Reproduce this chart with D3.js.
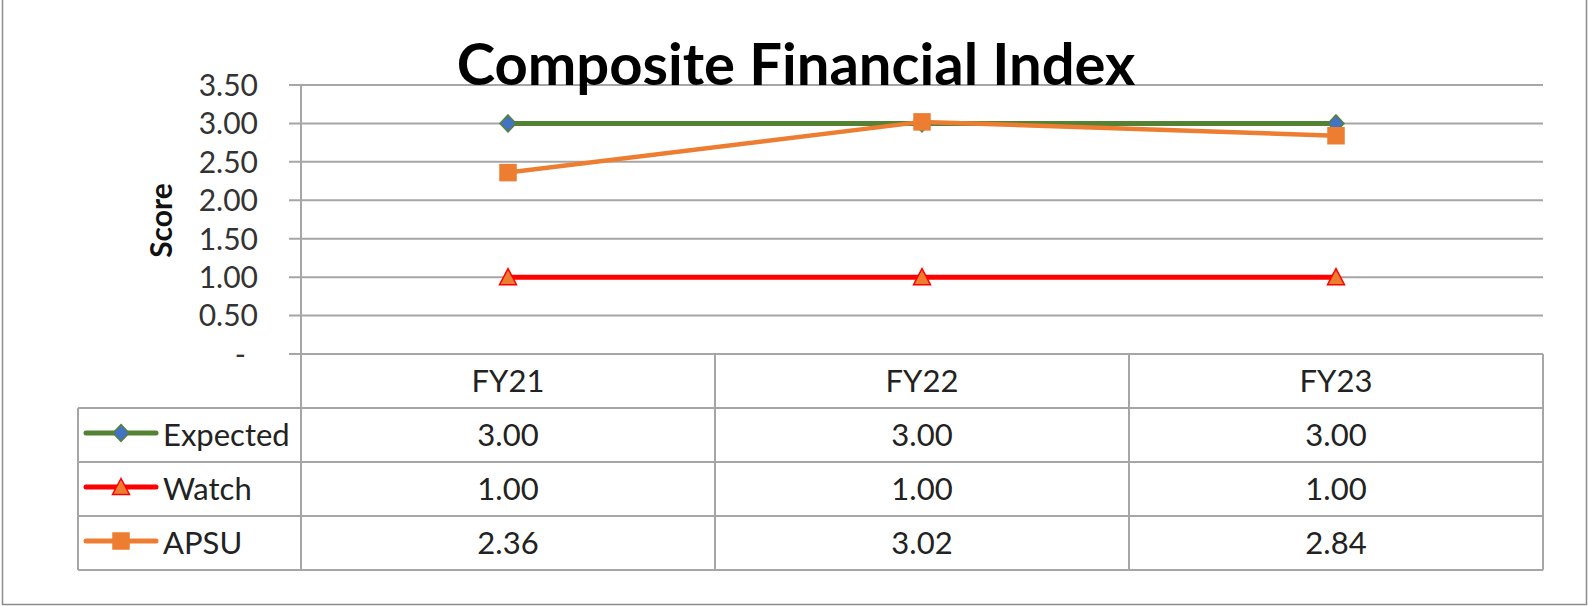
<!DOCTYPE html>
<html>
<head>
<meta charset="utf-8">
<script src="https://cdn.jsdelivr.net/npm/d3@7"></script>
<style>
  html, body { margin: 0; padding: 0; background: #fff; }
  svg { display: block; font-family: Lato, "Open Sans", sans-serif; }
  .grid line { stroke: #a6a6a6; stroke-width: 2; }
  .cell { stroke: #a6a6a6; stroke-width: 2; }
  .tick-label { font-size: 30px; fill: #333; }
  .tbl-text { font-size: 31px; fill: #222; }
</style>
</head>
<body>
<svg id="chart" width="1588" height="606"></svg>
<script>
// chart data
var categories = ["FY21", "FY22", "FY23"];
var expected   = [3.00, 3.00, 3.00];
var watch      = [1.00, 1.00, 1.00];
var apsu       = [2.36, 3.02, 2.84];
var yTicks     = [0, 0.5, 1, 1.5, 2, 2.5, 3, 3.5];

var series = [
  {name: "Expected", values: expected, line: "#548235", fill: "#4472c4", stroke: "#548235", marker: "diamond", width: 5},
  {name: "Watch",    values: watch,    line: "#ff0000", fill: "#ed7d31", stroke: "#ff0000", marker: "triangle", width: 5},
  {name: "APSU",     values: apsu,     line: "#ed7d31", fill: "#ed7d31", stroke: "#ed7d31", marker: "square", width: 4.5}
];

var svg = d3.select("#chart");

// plot area
var plotLeft = 301, plotRight = 1543, plotTop = 85, plotBottom = 354;
var rowH = 54;                     // data table row height
var tblLeft = 78;

var x = d3.scaleBand().domain(categories).range([plotLeft, plotRight]);
var y = d3.scaleLinear().domain([0, 3.5]).range([plotBottom, plotTop]);

// outer frame
svg.append("path")
   .attr("d", "M2.5,-2 V604.5 H1586.5 V-2")
   .attr("fill", "none")
   .attr("stroke", "#8c8c8c")
   .attr("stroke-width", 1.5);

// gridlines + ticks (ticks extend out left of axis)
svg.append("g")
   .attr("class", "grid")
   .selectAll("line")
   .data(yTicks)
   .enter()
   .append("line")
   .attr("x1", plotLeft - 12)
   .attr("x2", plotRight)
   .attr("y1", d => y(d))
   .attr("y2", d => y(d));

svg.selectAll("text.tick-label")
   .data(yTicks)
   .enter()
   .append("text")
   .attr("class", "tick-label")
   .attr("text-anchor", "end")
   .attr("x", d => d === 0 ? 246 : 258)
   .attr("y", d => y(d))
   .attr("dy", "0.36em")
   .text(d => d === 0 ? "-" : d.toFixed(2));

// axis title
svg.append("text")
   .attr("transform", "translate(172," + (y(1.75) + 1) + ") rotate(-90)")
   .attr("text-anchor", "middle")
   .style("font-size", "30px")
   .style("font-weight", "bold")
   .style("fill", "#111")
   .text("Score");

// data table lines
var tblBottom = plotBottom + rowH * 4;
var cells = svg.append("g");

// value axis line continues down through header row
cells.append("line").attr("class", "cell")
     .attr("x1", plotLeft).attr("x2", plotLeft).attr("y1", plotTop).attr("y2", tblBottom);

// column separators
categories.forEach(function(c) {
  cells.append("line").attr("class", "cell")
       .attr("x1", x(c) + x.bandwidth()).attr("x2", x(c) + x.bandwidth())
       .attr("y1", plotBottom).attr("y2", tblBottom);
});

// row separators
d3.range(1, 5).forEach(function(i) {
  cells.append("line").attr("class", "cell")
       .attr("x1", tblLeft).attr("x2", plotRight)
       .attr("y1", plotBottom + rowH * i).attr("y2", plotBottom + rowH * i);
});
cells.append("line").attr("class", "cell")
     .attr("x1", tblLeft).attr("x2", tblLeft)
     .attr("y1", plotBottom + rowH).attr("y2", tblBottom);

// header labels
svg.selectAll("text.cat")
   .data(categories)
   .enter()
   .append("text")
   .attr("class", "tbl-text cat")
   .attr("text-anchor", "middle")
   .attr("x", d => x(d) + x.bandwidth() / 2)
   .attr("y", plotBottom + rowH / 2)
   .attr("dy", "0.36em")
   .text(d => d);

// marker shapes
function marker(sel, type) {
  if (type === "diamond") {
    sel.append("path").attr("d", "M0,-8.5 L8,0 L0,8.5 L-8,0 Z");
  } else if (type === "triangle") {
    sel.append("path").attr("d", "M0,-8.5 L8.5,7.5 L-8.5,7.5 Z");
  } else {
    sel.append("rect").attr("x", -8).attr("y", -8).attr("width", 16).attr("height", 16);
  }
}

var line = d3.line()
             .x((d, i) => x(categories[i]) + x.bandwidth() / 2)
             .y(d => y(d));

series.forEach(function(s, si) {

  // plot line
  svg.append("path")
     .datum(s.values)
     .attr("fill", "none")
     .attr("stroke", s.line)
     .attr("stroke-width", s.width)
     .attr("d", line);

  s.values.forEach(function(v, i) {
    var g = svg.append("g")
               .attr("transform", "translate(" + (x(categories[i]) + x.bandwidth() / 2) + "," + y(v) + ")")
               .attr("fill", s.fill)
               .attr("stroke", s.stroke)
               .attr("stroke-width", 1.5);
    marker(g, s.marker);
  });

  // table row
  var rowMid = plotBottom + rowH * (si + 1) + rowH / 2;

  svg.append("line")
     .attr("x1", 86).attr("x2", 156)
     .attr("y1", rowMid - 2).attr("y2", rowMid - 2)
     .attr("stroke", s.line)
     .attr("stroke-width", 5)
     .attr("stroke-linecap", "round");

  var lg = svg.append("g")
              .attr("transform", "translate(121," + (rowMid - 2) + ")")
              .attr("fill", s.fill)
              .attr("stroke", s.stroke)
              .attr("stroke-width", 1.5);
  marker(lg, s.marker);

  svg.append("text")
     .attr("class", "tbl-text")
     .attr("x", 163)
     .attr("y", rowMid)
     .attr("dy", "0.36em")
     .text(s.name);

  svg.selectAll("text.v" + si)
     .data(s.values)
     .enter()
     .append("text")
     .attr("class", "tbl-text v" + si)
     .attr("text-anchor", "middle")
     .attr("x", (d, i) => x(categories[i]) + x.bandwidth() / 2)
     .attr("y", rowMid)
     .attr("dy", "0.36em")
     .text(d => d.toFixed(2));
});

// chart title
svg.append("text")
   .attr("x", 796)
   .attr("y", 85)
   .attr("text-anchor", "middle")
   .style("font-size", "58px")
   .style("font-weight", "bold")
   .style("fill", "#000")
   .text("Composite Financial Index");
</script>
</body>
</html>
